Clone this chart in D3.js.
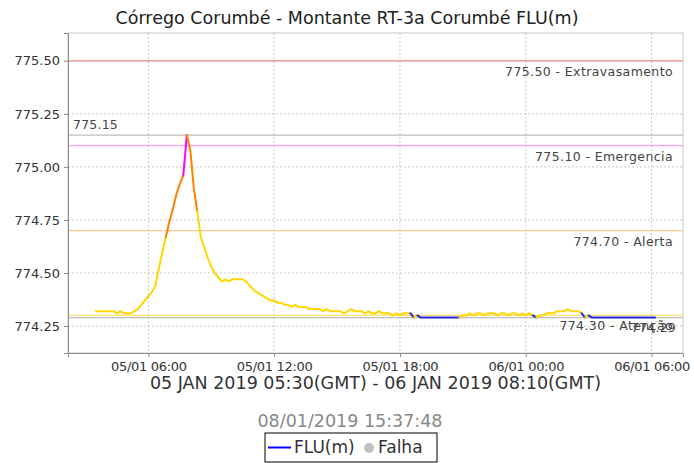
<!DOCTYPE html>
<html>
<head>
<meta charset="utf-8">
<script src="https://cdn.jsdelivr.net/npm/d3@7"></script>
<style>
  body { margin: 0; background: #fff; }
  text { font-family: "DejaVu Sans", sans-serif; }
</style>
</head>
<body>
<div id="chart"></div>
<script>
// Series: FLU(m), one reading every 10 minutes, local time (05/01 03:30 -> 06/01 06:10)
const startTime = "2019-01-05T03:30:00Z";
const stepMinutes = 10;
const levels = [
  774.32, 774.32, 774.32, 774.32, 774.32, 774.32, 774.31, 774.32, 774.31, 774.31,
  774.31, 774.32, 774.33, 774.35, 774.37, 774.39, 774.41, 774.44, 774.52, 774.60,
  774.67, 774.74, 774.80, 774.87, 774.92, 774.96, 775.15, 775.08, 774.90, 774.79,
  774.67, 774.62, 774.57, 774.53, 774.50, 774.48, 774.46, 774.47, 774.46, 774.47,
  774.47, 774.47, 774.47, 774.46, 774.44, 774.42, 774.41, 774.40, 774.39, 774.38,
  774.37, 774.37, 774.36, 774.36, 774.35, 774.35, 774.34, 774.35, 774.34, 774.34,
  774.34, 774.33, 774.33, 774.33, 774.33, 774.32, 774.33, 774.32, 774.32, 774.32,
  774.32, 774.31, 774.32, 774.33, 774.32, 774.32, 774.32, 774.31, 774.32, 774.31,
  774.31, 774.32, 774.31, 774.31, 774.31, 774.30, 774.31, 774.30, 774.31, 774.31,
  774.31, 774.29, 774.30, 774.29, 774.29, 774.29, 774.29, 774.29, 774.29, 774.29,
  774.29, 774.29, 774.29, 774.29, 774.29, 774.30, 774.30, 774.31, 774.30, 774.31,
  774.31, 774.30, 774.31, 774.31, 774.31, 774.30, 774.31, 774.31, 774.30, 774.31,
  774.31, 774.30, 774.31, 774.30, 774.31, 774.30, 774.29, 774.30, 774.30, 774.31,
  774.31, 774.31, 774.32, 774.32, 774.32, 774.33, 774.32, 774.32, 774.32, 774.31,
  774.29, 774.30, 774.29, 774.29, 774.29, 774.29, 774.29, 774.29, 774.29, 774.29,
  774.29, 774.29, 774.29, 774.29, 774.29, 774.29, 774.29, 774.29, 774.29, 774.29,
  774.29
];

// Alarm levels
const markerValues = [775.50, 775.10, 774.70, 774.30];
const markerNames  = ["Extravasamento", "Emergencia", "Alerta", "Atenção"];
const markerColors = ["#f08a8a", "#ff99ff", "#ffc890", "#ffe070"];
const lineColors   = ["#ff00ff", "#ff8000", "#ffd700", "#2828e0"];

// Axes
const yTicks = [774.25, 774.50, 774.75, 775.00, 775.25, 775.50];
const xDomain = ["2019-01-05T02:10:00Z", "2019-01-06T07:30:00Z"];
const yDomain = [774.123, 775.631];

const titleText = "Córrego Corumbé - Montante RT-3a Corumbé FLU(m)";
const rangeText = "05 JAN 2019 05:30(GMT) - 06 JAN 2019 08:10(GMT)";
const stampText = "08/01/2019 15:37:48";

const W = 694, H = 463;
const margin = {top: 33, right: 11, bottom: 110, left: 68};
const width = W - margin.left - margin.right,
      height = H - margin.top - margin.bottom;

const t0 = new Date(startTime).getTime();
const data = levels.map((v, i) => ({t: new Date(t0 + i * stepMinutes * 60000), v: v}));
const maxV = d3.max(levels), minV = d3.min(levels);

const svg = d3.select("#chart").append("svg")
    .attr("width", W).attr("height", H);
svg.append("rect").attr("width", W).attr("height", H).attr("fill", "#fff");

const g = svg.append("g")
    .attr("transform", "translate(" + margin.left + "," + margin.top + ")");

const x = d3.scaleUtc()
    .domain(xDomain.map(d => new Date(d)))
    .range([0, width]);
const y = d3.scaleLinear()
    .domain(yDomain)
    .range([height, 0]);

const xTicks = d3.utcHour.every(6).range(x.domain()[0], x.domain()[1]);

// gridlines
g.selectAll(".hgrid").data(yTicks).enter().append("line")
    .attr("x1", 0).attr("x2", width)
    .attr("y1", d => y(d)).attr("y2", d => y(d))
    .attr("stroke", "#c8c8c8").attr("stroke-dasharray", "2,2");
g.selectAll(".vgrid").data(xTicks).enter().append("line")
    .attr("x1", d => x(d)).attr("x2", d => x(d))
    .attr("y1", 0).attr("y2", height)
    .attr("stroke", "#c8c8c8").attr("stroke-dasharray", "2,2");

// plot outline
g.append("rect").attr("width", width).attr("height", height)
    .attr("fill", "none").attr("stroke", "#c8c8c8");

// alarm markers
markerValues.forEach((m, i) => {
    g.append("line")
        .attr("x1", 0).attr("x2", width)
        .attr("y1", y(m)).attr("y2", y(m))
        .attr("stroke", markerColors[i]).attr("stroke-width", 1.2);
});

// max / min lines
[maxV, minV].forEach(m => {
    g.append("line")
        .attr("x1", 0).attr("x2", width)
        .attr("y1", y(m)).attr("y2", y(m))
        .attr("stroke", "#bdbdbd").attr("stroke-width", 1.2);
});

// series coloured by alarm level of each segment end
function colorFor(v) {
    if (v > markerValues[1]) return lineColors[0];
    if (v > markerValues[2]) return lineColors[1];
    if (v >= markerValues[3]) return lineColors[2];
    return lineColors[3];
}
const line = d3.line().x(d => x(d.t)).y(d => y(d.v));
const runs = [];
for (let i = 1; i < data.length; i++) {
    const c = colorFor(data[i].v);
    const last = runs[runs.length - 1];
    if (last && last.color === c) last.pts.push(data[i]);
    else runs.push({color: c, pts: [data[i - 1], data[i]]});
}
g.selectAll(".run").data(runs).enter().append("path")
    .attr("d", d => line(d.pts))
    .attr("fill", "none")
    .attr("stroke", d => d.color)
    .attr("stroke-width", 2)
    .attr("stroke-linejoin", "round")
    .attr("stroke-linecap", "round");

// marker labels
markerValues.forEach((m, i) => {
    g.append("text")
        .attr("x", width - 10).attr("y", y(m) + 11.5)
        .attr("text-anchor", "end").attr("dominant-baseline", "middle")
        .style("font-size", "12.5px").style("letter-spacing", "0.4px").attr("fill", "#444")
        .text(m.toFixed(2) + " - " + markerNames[i]);
});
g.append("text")
    .attr("x", 5).attr("y", y(maxV) - 10)
    .attr("dominant-baseline", "middle")
    .style("font-size", "12.5px").style("letter-spacing", "0.2px").attr("fill", "#444")
    .text(maxV.toFixed(2));
g.append("text")
    .attr("x", width - 7).attr("y", y(minV) + 11)
    .attr("text-anchor", "end").attr("dominant-baseline", "middle")
    .style("font-size", "12.5px").style("letter-spacing", "0.2px").attr("fill", "#444")
    .text(minV.toFixed(2));

// axes
const yAxis = g.append("g")
    .call(d3.axisLeft(y).tickValues(yTicks).tickFormat(d3.format(".2f")).tickSize(4).tickPadding(4));
const xAxis = g.append("g")
    .attr("transform", "translate(0," + height + ")")
    .call(d3.axisBottom(x).tickValues(xTicks).tickFormat(d3.utcFormat("%d/%m %H:%M")).tickSize(4).tickPadding(5));
[yAxis, xAxis].forEach(a => {
    a.select(".domain").attr("stroke", "#8c8c8c");
    a.selectAll(".tick line").attr("stroke", "#8c8c8c");
    a.selectAll(".tick text").style("font-size", "13px").style("font-family", "DejaVu Sans").attr("fill", "#333");
});
xAxis.selectAll(".tick text").style("letter-spacing", "-0.3px");

// titles
svg.append("text")
    .attr("x", W / 2).attr("y", 24)
    .attr("text-anchor", "middle")
    .style("font-size", "17.5px").attr("fill", "#222")
    .text(titleText);
svg.append("text")
    .attr("x", margin.left + width / 2).attr("y", 389)
    .attr("text-anchor", "middle")
    .style("font-size", "17.5px").attr("fill", "#333")
    .text(rangeText);
svg.append("text")
    .attr("x", W / 2 + 3).attr("y", 427)
    .attr("text-anchor", "middle")
    .style("font-size", "17.5px").attr("fill", "#888")
    .text(stampText);

// legend
const lg = svg.append("g").attr("transform", "translate(265,433)");
lg.append("rect").attr("width", 172).attr("height", 29)
    .attr("fill", "#fff").attr("stroke", "#000");
lg.append("line").attr("x1", 3).attr("x2", 26).attr("y1", 14.5).attr("y2", 14.5)
    .attr("stroke", "#0000ff").attr("stroke-width", 2);
lg.append("text").attr("x", 29).attr("y", 15).attr("dominant-baseline", "middle")
    .style("font-size", "17px").attr("fill", "#333").text("FLU(m)");
lg.append("circle").attr("cx", 104).attr("cy", 15).attr("r", 5).attr("fill", "#c0c0c0");
lg.append("text").attr("x", 113).attr("y", 15).attr("dominant-baseline", "middle")
    .style("font-size", "17px").attr("fill", "#333").text("Falha");
</script>
</body>
</html>
